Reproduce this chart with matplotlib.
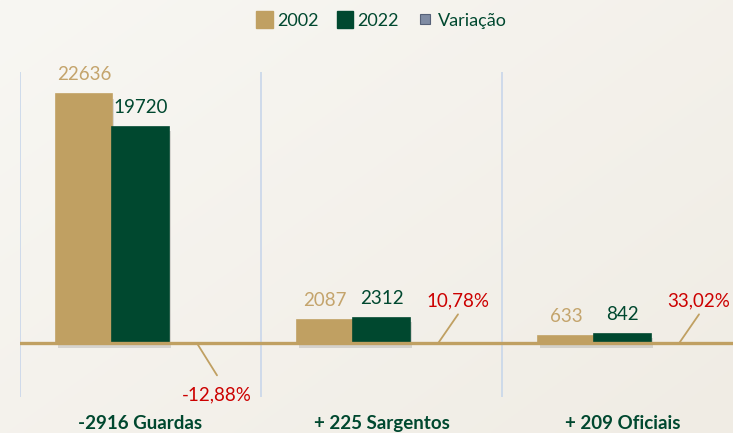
import numpy as np
import matplotlib
matplotlib.use("Agg")
import matplotlib.pyplot as plt
from matplotlib.patches import Patch
from matplotlib.lines import Line2D
import matplotlib.patheffects as pe

# ---- data ----
categories = ["Guardas", "Sargentos", "Oficiais"]
values_2002 = [22636, 2087, 633]
values_2022 = [19720, 2312, 842]
variacao_pct = [-12.88, 10.78, 33.02]
series_names = ["2002", "2022", "Variação"]

# ---- styles ----
TAN = "#C0A062"
TAN_TXT = "#C4A46C"
GREEN = "#00482F"
RED = "#CC0000"
VAR_COL = "#7F8BA3"
GRID = "#C8D6EA"
FONT = "Lato"

W, H = 733, 433
fig = plt.figure(figsize=(W / 100, H / 100), dpi=100)

# background gradient
bg = fig.add_axes([0, 0, 1, 1], zorder=-10)
yy, xx = np.mgrid[0:1:200j, 0:1:300j]
t = 0.55 * xx + 0.45 * yy
c0 = np.array([248, 247, 243]) / 255
c1 = np.array([240, 236, 228]) / 255
img = c0[None, None, :] * (1 - t[..., None]) + c1[None, None, :] * t[..., None]
bg.imshow(img, aspect="auto", extent=[0, 1, 0, 1], origin="upper")
bg.axis("off")

left_px, right_px, top_px, bot_px = 20, 743, 72, 397
ax = fig.add_axes([left_px / W, 1 - bot_px / H, (right_px - left_px) / W, (bot_px - top_px) / H])
ax.set_facecolor("none")

n = len(categories)
x = np.arange(n)
bw = 0.2345

shadow = [pe.SimplePatchShadow(offset=(1.5, -3), alpha=0.12, shadow_rgbFace="#000000"), pe.Normal()]
b1 = ax.bar(x - bw, values_2002, bw, color=TAN, edgecolor=TAN, linewidth=1.2, zorder=3)
b2 = ax.bar(x, values_2022, bw, color=GREEN, edgecolor=GREEN, linewidth=1.2, zorder=3)
b3 = ax.bar(x + bw, variacao_pct, bw, color=VAR_COL, linewidth=0, zorder=3)
for b in list(b1) + list(b2):
    b.set_path_effects(shadow)

ax.axhline(0, color=TAN, lw=2.4, zorder=4)

ax.set_xlim(-0.5, n - 0.5)
ax.set_ylim(-4880, 24680)

# category separators
for xb in np.arange(-0.5, n, 1.0):
    ax.axvline(xb, color=GRID, lw=1.2, zorder=1)

for s in ax.spines.values():
    s.set_visible(False)
ax.set_yticks([])

labels = []
for name, a, b in zip(categories, values_2002, values_2022):
    d = b - a
    labels.append(f"{d} {name}" if d < 0 else f"+ {d} {name}")
ax.set_xticks(x)
ax.set_xticklabels(labels, fontfamily=FONT, fontweight="bold", fontsize=13.5, color=GREEN)
ax.tick_params(axis="x", length=0, pad=13)

# value labels
for xi, v in zip(x - bw, values_2002):
    ax.annotate(f"{v}", (xi, v), xytext=(0, 14), textcoords="offset pixels",
                ha="center", va="baseline", fontsize=13.5, color=TAN_TXT, fontfamily=FONT, zorder=6)
for xi, v in zip(x, values_2022):
    ax.annotate(f"{v}", (xi, v), xytext=(0, 14), textcoords="offset pixels",
                ha="center", va="baseline", fontsize=13.5, color=GREEN, fontfamily=FONT, zorder=6)

# variation labels with leader lines
for xi, p in zip(x + bw, variacao_pct):
    txt = f"{p:.2f}%".replace(".", ",")
    if p < 0:
        ty, ly = -57, -32
    else:
        ty, ly = 37, 29
    ax.annotate("", (xi, 0), xytext=(20, ly), textcoords="offset pixels",
                arrowprops=dict(arrowstyle="-", color=TAN, lw=1.3, shrinkA=0, shrinkB=0), zorder=5)
    ax.annotate(txt, (xi, 0), xytext=(20, ty), textcoords="offset pixels",
                ha="center", va="baseline", fontsize=13.5, color=RED, fontfamily=FONT, zorder=6,
                annotation_clip=False)

# legend
handles = [
    Patch(facecolor=TAN, edgecolor=TAN, label=series_names[0]),
    Patch(facecolor=GREEN, edgecolor=GREEN, label=series_names[1]),
    Line2D([], [], linestyle="none", marker="s", markersize=7, markerfacecolor=VAR_COL,
           markeredgecolor="#566178", markeredgewidth=0.8, label=series_names[2]),
]
leg = fig.legend(handles=handles, loc="center", bbox_to_anchor=(((left_px + right_px) / 2) / W, 1 - 20 / H),
                 ncol=3, frameon=False, handlelength=0.9, handleheight=1.0, handletextpad=0.25,
                 columnspacing=1.0, prop={"family": FONT, "size": 13})
for t_ in leg.get_texts():
    t_.set_color(GREEN)

fig.savefig("out.png", dpi=100)
